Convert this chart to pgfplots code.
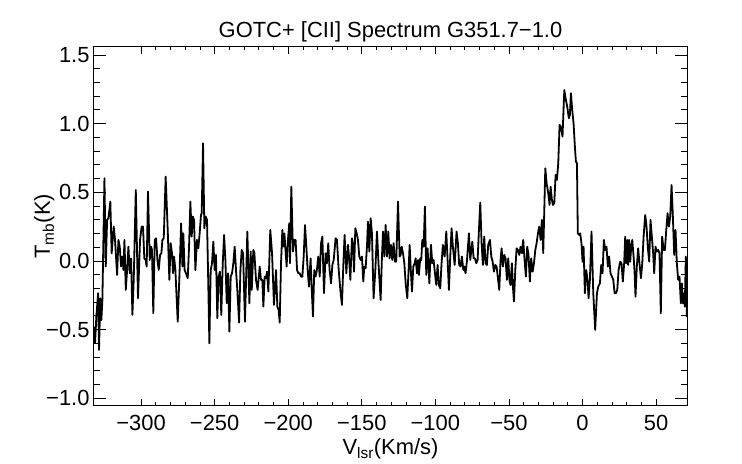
\documentclass[border=0pt]{standalone}
\usepackage{pgfplots}
\pgfplotsset{compat=1.18}
\usepackage{fontspec}
\setmainfont{Liberation Sans}
\begin{document}
\begin{tikzpicture}
\begin{axis}[
  at={(0,0)}, anchor=south west,
  scale only axis, width=593bp, height=359bp,
  xmin=-332, xmax=71, ymin=-1.054, ymax=1.56,
  xtick={-300,-250,-200,-150,-100,-50,0,50},
  xticklabels={−300,−250,−200,−150,−100,−50,0,50},
  ytick={-1,-0.5,0,0.5,1,1.5},
  yticklabels={−1.0,−0.5,0.0,0.5,1.0,1.5},
  minor x tick num=4, minor y tick num=4,
  tick align=inside,
  xtick style={/pgfplots/major tick length=7bp,/pgfplots/minor tick length=3.6bp,line width=0.8bp,black},
  ytick style={/pgfplots/major tick length=12bp,/pgfplots/minor tick length=6bp,line width=0.8bp,black},
  axis line style={line width=1bp},
  tick label style={font=\fontsize{22}{22}\selectfont},
  xticklabel style={anchor=base, yshift=-24.5bp},
  yticklabel style={xshift=-1bp},
  label style={font=\fontsize{22}{22}\selectfont},
  title style={font=\fontsize{22}{22}\selectfont, at={(axis description cs:0.5,1.01)}, anchor=base},
  xlabel style={at={(axis description cs:0.5,-0.1365)}, anchor=base},
  ylabel style={at={(axis description cs:-0.0742,0.5)}, anchor=base},
  title={GOTC+ [CII] Spectrum G351.7−1.0},
  xlabel={V\textsubscript{lsr}(Km/s)},
  ylabel={T\textsubscript{mb}(K)},
  clip=true,
]
\addplot[black, line width=1.8bp, line join=round] coordinates {
(-332.0,-0.478) (-331.3,-0.60) (-330.4,-0.405) (-329.2,-0.235) (-328.6,-0.648) (-327.7,-0.272)
(-327.0,-0.43) (-326.3,-0.284) (-324.9,0.602) (-324.0,-0.041) (-323.1,0.299) (-322.2,0.311)
(-320.9,0.432) (-320.0,0.056) (-318.6,0.25) (-317.7,0.153) (-316.3,-0.102) (-315.4,0.153)
(-314.5,0.104) (-313.6,-0.041) (-312.7,0.032) (-312.0,-0.066) (-311.3,0.153) (-310.4,-0.211)
(-309.5,-0.066) (-308.6,0.104) (-307.7,-0.09) (-306.8,0.019) (-305.9,-0.393) (-305.0,-0.138)
(-303.6,0.517) (-302.1,-0.272) (-300.7,0.153) (-299.6,0.25) (-298.7,0.25) (-297.8,0.019)
(-296.9,0.007) (-296.2,-0.041) (-295.3,0.505) (-294.1,0.007) (-293.2,0.104) (-292.6,0.08)
(-291.7,-0.381) (-290.7,0.153) (-289.8,0.165) (-288.9,0.007) (-288.0,-0.066) (-287.1,0.044)
(-286.2,0.056) (-285.5,0.153) (-284.6,0.165) (-283.3,0.614) (-281.9,0.226)
(-280.8,-0.138) (-279.9,0.129) (-279.0,0.056) (-278.3,-0.09) (-277.6,0.032) (-276.7,-0.066)
(-275.1,-0.442) (-273.8,-0.066) (-272.8,0.274) (-271.9,-0.041) (-271.3,0.201) (-270.4,-0.066)
(-269.5,-0.09) (-268.3,-0.126) (-267.4,0.104) (-266.5,0.432) (-265.6,0.177) (-264.9,0.323)
(-264.0,0.299) (-263.1,-0.066) (-262.0,0.153) (-261.1,0.092) (-260.2,0.201) (-259.3,0.335)
(-258.8,0.347) (-257.9,0.857) (-257.0,0.238) (-256.1,0.323) (-255.2,0.299) (-254.3,-0.187)
(-253.6,-0.60) (-252.7,-0.066) (-251.8,-0.017) (-250.9,0.141) (-250.0,-0.066) (-249.1,0.044)
(-248.2,-0.417) (-247.3,-0.114) (-246.4,-0.078) (-245.5,-0.393) (-244.5,-0.017) (-243.6,0.189)
(-242.7,0.007) (-241.8,-0.308) (-240.9,-0.09) (-240.0,-0.515) (-239.1,-0.114) (-238.2,-0.09)
(-237.3,-0.017) (-236.4,0.104) (-235.5,-0.066) (-234.6,-0.211) (-233.4,-0.449) (-232.5,-0.066)
(-231.6,0.08) (-230.7,0.056)
(-229.4,-0.442) (-227.8,0.214) (-226.4,-0.308) (-225.5,0.068) (-224.8,-0.211) (-223.7,0.08)
(-223.0,0.056) (-221.9,-0.138) (-220.8,-0.211) (-219.4,-0.041) (-218.5,-0.138) (-217.6,-0.138)
(-216.9,-0.333) (-216.0,-0.114) (-215.1,-0.126) (-214.4,-0.078) (-213.5,-0.223) (-212.2,0.226)
(-211.0,0.056) (-209.7,-0.32) (-208.3,-0.066) (-207.4,-0.333) (-206.5,-0.357) (-205.8,-0.449)
(-204.9,-0.017) (-204.0,0.226) (-203.3,0.104) (-202.6,0.201) (-201.7,0.056) (-201.1,-0.041)
(-200.2,0.153) (-199.3,0.274) (-198.8,-0.017) (-197.9,0.541) (-196.8,0.068) (-195.9,0.153)
(-195.0,0.153) (-194.0,-0.066) (-193.1,-0.09) (-192.2,-0.09) (-191.3,-0.114) (-190.4,-0.114)
(-189.5,0.032) (-188.6,0.262) (-187.7,0.104) (-186.8,-0.066) (-185.9,-0.187) (-184.8,0.019)
(-184.1,-0.187) (-183.2,-0.405) (-182.3,-0.066) (-181.4,-0.114) (-180.5,-0.066) (-179.6,0.032)
(-178.6,-0.114)
(-177.7,0.129) (-176.8,0.177) (-175.7,-0.235) (-174.6,0.056) (-173.7,-0.017) (-172.8,0.129)
(-171.9,-0.066) (-170.9,-0.163) (-170.0,-0.029) (-169.1,0.007) (-167.8,0.165) (-166.9,0.153)
(-165.7,-0.066) (-164.6,-0.211) (-163.5,-0.32) (-162.6,-0.041) (-161.7,0.189) (-160.5,-0.09)
(-159.4,0.117) (-158.7,0.032) (-157.8,-0.138) (-156.7,0.165) (-156.0,0.129) (-155.3,-0.078)
(-154.4,0.238) (-153.5,0.201) (-152.6,0.153) (-151.7,0.032) (-150.8,0.007) (-149.9,0.032)
(-149.0,-0.15) (-148.3,-0.041) (-147.4,-0.053) (-146.5,0.104) (-145.8,0.286) (-144.9,0.068)
(-144.0,0.311) (-143.1,0.201) (-142.0,-0.272) (-140.8,-0.066) (-139.7,0.214) (-138.6,-0.029)
(-137.2,-0.284) (-136.3,0.032) (-135.6,0.214) (-134.7,0.032) (-133.8,0.262) (-132.9,0.032)
(-132.0,0.214) (-131.1,0.019) (-130.2,0.117) (-129.3,0.007) (-128.4,0.129) (-127.5,-0.005)
(-126.6,-0.005) (-125.4,0.432)
(-124.3,0.032) (-123.6,0.044) (-122.9,0.104) (-122.0,0.056) (-121.1,-0.017) (-120.2,-0.163)
(-119.1,-0.272) (-118.2,-0.066) (-117.5,0.117) (-116.6,-0.09) (-115.9,-0.223) (-115.0,-0.041)
(-114.1,-0.017) (-113.4,0.019) (-112.5,-0.09) (-111.8,0.007) (-111.2,-0.102) (-110.3,0.019)
(-109.6,0.007) (-108.9,0.153) (-108.0,0.104) (-107.1,0.396) (-106.2,-0.102) (-105.3,0.092)
(-104.1,-0.163) (-103.0,0.117) (-102.1,-0.017) (-101.2,0.007) (-100.3,-0.09) (-99.4,-0.175)
(-98.5,-0.029) (-97.6,-0.175) (-96.7,-0.199) (-95.8,-0.017) (-94.9,0.117) (-93.7,0.032)
(-92.6,0.214) (-91.7,0.007) (-90.8,-0.211) (-89.9,0.032) (-89.0,0.238) (-88.1,0.104)
(-86.9,-0.029) (-85.6,0.214) (-84.7,0.129) (-83.8,-0.029) (-82.9,-0.041) (-82.0,0.032)
(-81.0,-0.066) (-80.4,-0.041) (-79.5,-0.09) (-78.6,-0.005) (-77.2,0.201) (-76.3,0.007)
(-74.9,0.141) (-74.0,0.019) (-73.1,0.019) (-72.2,-0.017) (-71.3,0.007) (-70.4,0.226)
(-69.5,0.425) (-68.6,0.129) (-67.7,-0.029) (-66.8,0.177) (-65.9,-0.017) (-65.0,-0.029)
(-64.1,0.117) (-62.9,0.153) (-62.0,0.032) (-61.1,-0.005) (-60.2,-0.078) (-59.3,-0.029)
(-58.4,-0.041) (-57.5,-0.126) (-56.6,-0.211) (-55.7,0.007) (-55.0,0.092) (-54.1,-0.041)
(-53.2,0.044) (-52.3,0.019) (-51.4,-0.138) (-50.5,0.019) (-49.6,-0.15) (-48.9,-0.175)
(-48.0,-0.017) (-47.3,-0.187) (-46.6,-0.296) (-45.7,-0.066) (-44.8,0.092) (-43.9,0.08)
(-43.0,0.044) (-42.1,0.104) (-41.2,0.056) (-40.3,0.153) (-39.4,0.007) (-38.5,-0.114)
(-37.6,0.104) (-36.7,0.044) (-35.8,-0.15) (-34.9,0.019) (-33.9,-0.078) (-33.0,-0.017)
(-32.1,0.08) (-31.2,0.129) (-30.3,0.201) (-29.4,0.25) (-28.5,0.153) (-27.6,0.299)
(-26.7,0.056) (-25.3,0.675) (-24.4,0.566)
(-23.3,0.493) (-22.4,0.408) (-21.7,0.541) (-20.8,0.444) (-20.1,0.408) (-19.2,0.42)
(-18.3,0.626) (-17.4,0.59) (-16.5,0.711) (-15.6,0.99) (-14.7,0.978) (-13.6,0.905)
(-12.4,1.245) (-11.5,1.184) (-10.4,1.124) (-9.3,1.039) (-8.6,1.063) (-7.9,1.221)
(-7.0,1.1) (-6.1,1.002) (-5.2,0.833) (-4.5,0.723) (-3.8,0.711) (-3.2,0.201)
(-2.2,0.189) (-1.6,0.201) (-0.7,0.129) (0.0,-0.005) (0.7,0.104) (1.6,-0.235)
(2.5,-0.066) (3.4,-0.138) (4.1,-0.272) (5.0,-0.138) (6.1,0.214) (7.3,-0.235)
(8.6,-0.502) (9.8,-0.235) (10.7,-0.187) (11.8,-0.163) (12.7,-0.029) (13.6,-0.09)
(14.5,0.153) (15.4,0.08) (16.3,0.104) (17.2,-0.041) (18.1,0.032) (19.0,-0.09)
(20.0,-0.114) (20.9,-0.138) (21.8,-0.235) (22.7,-0.235) (23.6,-0.211) (24.5,-0.066)
(25.6,-0.005) (26.5,-0.017) (27.4,-0.15) (28.3,-0.017) (29.0,0.177) (29.7,-0.017)
(30.4,0.153) (31.0,-0.029) (31.7,0.153) (32.4,-0.005) (33.1,0.104) (33.8,0.153)
(34.7,0.032) (35.3,-0.066) (36.0,-0.26) (36.9,-0.041) (37.8,0.092) (38.7,-0.017)
(39.7,-0.126) (40.6,-0.017) (41.5,0.177) (42.6,0.335) (43.5,0.25) (44.4,0.092)
(45.3,-0.005) (46.2,0.299) (47.1,0.177) (48.0,0.056) (48.7,-0.09) (49.6,0.104)
(50.5,0.068) (51.4,0.08) (52.3,0.056) (53.2,-0.381) (54.1,0.177) (55.1,0.08)
(56.0,0.08) (56.9,0.226) (57.8,0.347) (58.7,0.25) (59.6,0.323) (60.5,0.553)
(61.4,0.323) (62.3,0.044) (63.2,0.226) (64.1,-0.017) (65.0,-0.138) (65.9,-0.114)
(66.8,-0.308) (67.5,-0.163) (68.2,-0.308) (68.9,-0.235) (69.5,-0.333) (70.2,0.032)
(70.9,-0.405) (71.6,-0.09)
};
\end{axis}
\pgfresetboundingbox
\path[use as bounding box] (-94bp,-58.3bp) rectangle (648bp,405.7bp);
\end{tikzpicture}
\end{document}
